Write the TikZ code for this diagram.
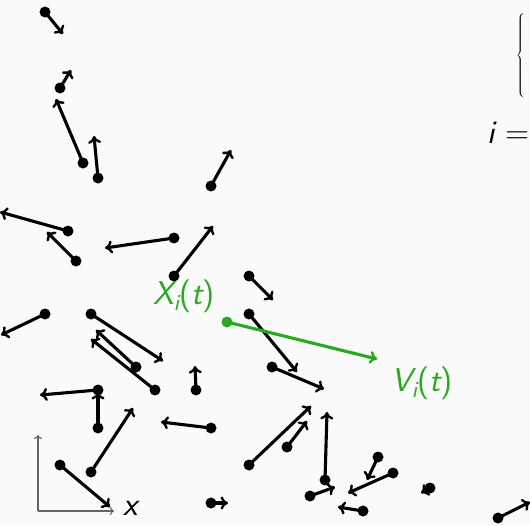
\documentclass[tikz,border=0pt]{standalone}
\usepackage{fontspec}
\usetikzlibrary{arrows.meta}
\definecolor{bg}{RGB}{250,250,250}
\definecolor{vgreen}{RGB}{40,170,30}
\definecolor{axisgray}{RGB}{100,100,100}
\tikzset{
  particle/.style={circle,fill=black,inner sep=0pt,minimum size=11pt},
  vec/.style={line width=3.1pt,-{To[length=7.5pt,width=13pt,line width=2.4pt]}},
  gparticle/.style={circle,fill=vgreen,inner sep=0pt,minimum size=11pt},
  gvec/.style={vgreen,line width=3.1pt,-{To[length=7.5pt,width=13pt,line width=2.4pt]}},
  axis/.style={axisgray,line width=1.5pt,-{To[length=4pt,width=8pt,line width=1.1pt]}},
  lbl/.style={font=\fontsize{33}{40}\selectfont\sffamily}
}
\begin{document}
\begin{tikzpicture}[x=1pt,y=-1pt]
\fill[bg] (0,0) rectangle (530,525);
\useasboundingbox (0,0) rectangle (530,525);

% particles and velocity vectors: position / tip
\foreach \n/\px/\py/\tx/\ty in {
  1/45/12/63/34, 2/60/88/71/70, 3/83/163/56/99, 4/98/178/94/136,
  5/211/186/231/150, 6/68/231/0/212, 7/76/261/47/232, 8/174/238/105/248,
  9/174/276/213/226, 10/45/314/1/335, 11/91/314/163/361, 12/136/367/96/330,
  13/155/390/91/339, 14/196/390/195/366, 15/98/390/40/395, 16/98/428/98/392,
  17/91/472/133/408, 18/60/465/110/507, 19/211/428/161/422, 20/211/503/228/503,
  21/249/276/273/300, 22/249/314/297/372, 23/272/367/324/389, 24/249/465/311/406,
  25/287/447/307/421, 26/325/480/327/412, 27/310/496/335/487, 28/378/457/367/480,
  29/393/473/348/493, 30/363/511/338/507, 31/430/488/421/493, 32/498/518/530/502}{
  \coordinate (t\n) at (\tx,\ty);
  \draw[vec] (\px,\py) -- (t\n);
  \node[particle] (p\n) at (\px,\py) {};
}

% highlighted particle i
\coordinate (vi) at (377,359);
\node[gparticle] (xi) at (227,322) {};
\draw[gvec] (xi.center) -- (vi);
\node[lbl,text=vgreen] (xilbl) at (184,296) {\itshape X\textsubscript{i}\upshape(\itshape t\upshape)};
\node[lbl,text=vgreen] (vilbl) at (422,383) {\itshape V\textsubscript{i}\upshape(\itshape t\upshape)};

% coordinate axes
\coordinate (o) at (38,511);
\coordinate (ey) at (38,435);
\coordinate (ex) at (114,511);
\draw[axis] (o) -- (ey);
\draw[axis] (o) -- (ex);
\node[lbl] (xlbl) at (131,508) {\itshape x};

% opening brace of the system at the top right
\node (brace) at (521,55) {\fontsize{33}{40}\selectfont$\left\{\rule[-36pt]{0pt}{86pt}\right.$};
\node[lbl,anchor=east,inner sep=0pt] (ieq) at (530,133) {\itshape i \upshape=};
\end{tikzpicture}
\end{document}
